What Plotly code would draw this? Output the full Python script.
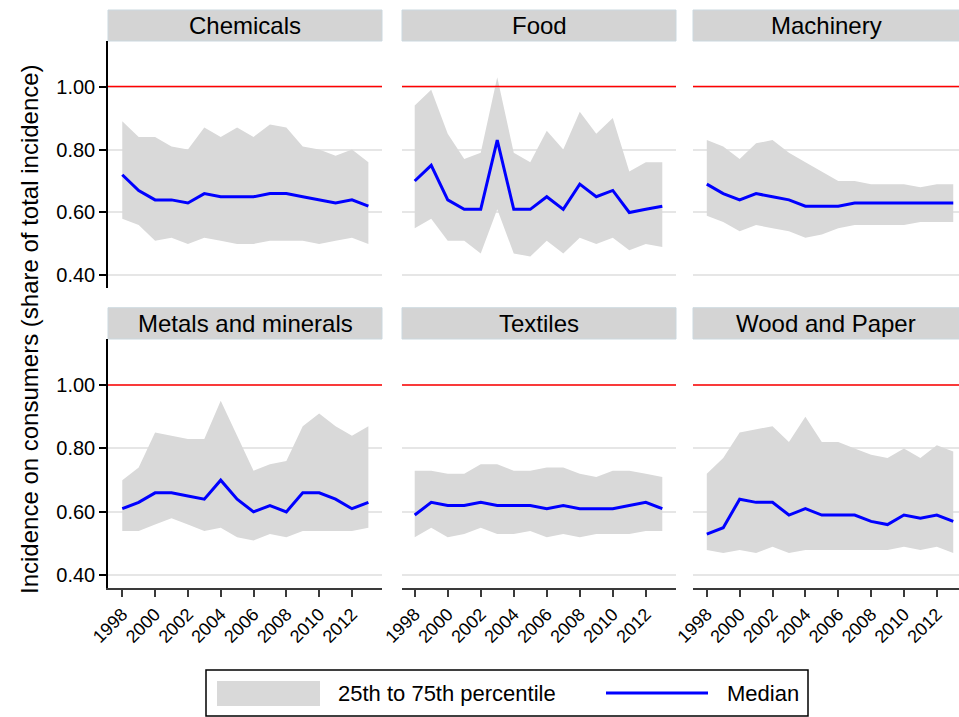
import plotly.graph_objects as go

# ---------------- data ----------------
YEARS = [1998, 1999, 2000, 2001, 2002, 2003, 2004, 2005,
         2006, 2007, 2008, 2009, 2010, 2011, 2012, 2013]
TICK_YEARS = [1998, 2000, 2002, 2004, 2006, 2008, 2010, 2012]
Y_TICKS = [0.40, 0.60, 0.80, 1.00]
REFERENCE_LEVEL = 1.00

PANELS = ["Chemicals", "Food", "Machinery",
          "Metals and minerals", "Textiles", "Wood and Paper"]
LEGEND_LABELS = ["25th to 75th percentile", "Median"]

CHEM_MEDIAN = [0.72, 0.67, 0.64, 0.64, 0.63, 0.66, 0.65, 0.65, 0.65, 0.66, 0.66, 0.65, 0.64, 0.63, 0.64, 0.62]
CHEM_P75 = [0.89, 0.84, 0.84, 0.81, 0.80, 0.87, 0.84, 0.87, 0.84, 0.88, 0.87, 0.81, 0.80, 0.78, 0.80, 0.76]
CHEM_P25 = [0.58, 0.56, 0.51, 0.52, 0.50, 0.52, 0.51, 0.50, 0.50, 0.51, 0.51, 0.51, 0.50, 0.51, 0.52, 0.50]

FOOD_MEDIAN = [0.70, 0.75, 0.64, 0.61, 0.61, 0.83, 0.61, 0.61, 0.65, 0.61, 0.69, 0.65, 0.67, 0.60, 0.61, 0.62]
FOOD_P75 = [0.94, 0.99, 0.85, 0.77, 0.79, 1.03, 0.79, 0.76, 0.86, 0.80, 0.92, 0.85, 0.90, 0.73, 0.76, 0.76]
FOOD_P25 = [0.55, 0.58, 0.51, 0.51, 0.47, 0.61, 0.47, 0.46, 0.51, 0.47, 0.52, 0.50, 0.52, 0.48, 0.50, 0.49]

MACH_MEDIAN = [0.69, 0.66, 0.64, 0.66, 0.65, 0.64, 0.62, 0.62, 0.62, 0.63, 0.63, 0.63, 0.63, 0.63, 0.63, 0.63]
MACH_P75 = [0.83, 0.81, 0.77, 0.82, 0.83, 0.79, 0.76, 0.73, 0.70, 0.70, 0.69, 0.69, 0.69, 0.68, 0.69, 0.69]
MACH_P25 = [0.59, 0.57, 0.54, 0.56, 0.55, 0.54, 0.52, 0.53, 0.55, 0.56, 0.56, 0.56, 0.56, 0.57, 0.57, 0.57]

METAL_MEDIAN = [0.61, 0.63, 0.66, 0.66, 0.65, 0.64, 0.70, 0.64, 0.60, 0.62, 0.60, 0.66, 0.66, 0.64, 0.61, 0.63]
METAL_P75 = [0.70, 0.74, 0.85, 0.84, 0.83, 0.83, 0.95, 0.84, 0.73, 0.75, 0.76, 0.87, 0.91, 0.87, 0.84, 0.87]
METAL_P25 = [0.54, 0.54, 0.56, 0.58, 0.56, 0.54, 0.55, 0.52, 0.51, 0.53, 0.52, 0.54, 0.54, 0.54, 0.54, 0.55]

TEXT_MEDIAN = [0.59, 0.63, 0.62, 0.62, 0.63, 0.62, 0.62, 0.62, 0.61, 0.62, 0.61, 0.61, 0.61, 0.62, 0.63, 0.61]
TEXT_P75 = [0.73, 0.73, 0.72, 0.72, 0.75, 0.75, 0.73, 0.73, 0.74, 0.74, 0.72, 0.71, 0.73, 0.73, 0.72, 0.71]
TEXT_P25 = [0.52, 0.55, 0.52, 0.53, 0.55, 0.53, 0.53, 0.54, 0.52, 0.53, 0.52, 0.53, 0.53, 0.53, 0.54, 0.54]

WOOD_MEDIAN = [0.53, 0.55, 0.64, 0.63, 0.63, 0.59, 0.61, 0.59, 0.59, 0.59, 0.57, 0.56, 0.59, 0.58, 0.59, 0.57]
WOOD_P75 = [0.72, 0.77, 0.85, 0.86, 0.87, 0.82, 0.90, 0.82, 0.82, 0.80, 0.78, 0.77, 0.80, 0.77, 0.81, 0.79]
WOOD_P25 = [0.48, 0.47, 0.48, 0.47, 0.49, 0.47, 0.48, 0.48, 0.48, 0.48, 0.48, 0.48, 0.49, 0.48, 0.49, 0.47]

SERIES = [
    (CHEM_MEDIAN, CHEM_P25, CHEM_P75),
    (FOOD_MEDIAN, FOOD_P25, FOOD_P75),
    (MACH_MEDIAN, MACH_P25, MACH_P75),
    (METAL_MEDIAN, METAL_P25, METAL_P75),
    (TEXT_MEDIAN, TEXT_P25, TEXT_P75),
    (WOOD_MEDIAN, WOOD_P25, WOOD_P75),
]

# ---------------- style / layout ----------------
W, H = 959, 717
FONT = "Liberation Sans, Arial, Helvetica, sans-serif"
FILL = "#d9d9d9"
BLUE = "#0000ff"
GRID = "#e6e6e6"

COL_PX = [(108, 382), (402, 676), (693, 959)]
ROW_PX = [(41, 288), (339, 588)]
X_RANGES = [[1997.13, 2013.83], [1997.23, 2013.83], [1997.16, 2013.35]]
Y_RANGE = [0.36, 1.145]


def px(x):
    return x / W


def py(y):
    return 1 - y / H


fig = go.Figure()
layout = dict(
    width=W, height=H,
    margin=dict(l=0, r=0, t=0, b=0, autoexpand=False),
    paper_bgcolor="white", plot_bgcolor="white",
    font=dict(family=FONT, color="black"),
    showlegend=False,
)
shapes = []
annotations = []

for i, (name, (med, p25, p75)) in enumerate(zip(PANELS, SERIES)):
    r, c = divmod(i, 3)
    n = i + 1
    xa = "x" if n == 1 else f"x{n}"
    ya = "y" if n == 1 else f"y{n}"
    xkey = "xaxis" if n == 1 else f"xaxis{n}"
    ykey = "yaxis" if n == 1 else f"yaxis{n}"

    band_x = YEARS + YEARS[::-1]
    band_y = p75 + p25[::-1]
    fig.add_trace(go.Scatter(
        x=band_x, y=band_y, xaxis=xa, yaxis=ya,
        fill="toself", fillcolor=FILL, mode="lines",
        line=dict(width=0, color=FILL),
        name=LEGEND_LABELS[0], hoverinfo="skip"))
    fig.add_trace(go.Scatter(
        x=YEARS, y=med, xaxis=xa, yaxis=ya, mode="lines",
        line=dict(color=BLUE, width=3), name=LEGEND_LABELS[1]))

    bottom = (r == 1)
    layout[xkey] = dict(
        domain=[px(COL_PX[c][0]), px(COL_PX[c][1])], anchor=ya, range=X_RANGES[c],
        automargin=False,
        showgrid=False, zeroline=False,
        showline=bottom, linecolor="#3a3a3a", linewidth=1.5,
        ticks="outside" if bottom else "", ticklen=7, tickwidth=1.5,
        tickcolor="#3a3a3a",
        tickvals=TICK_YEARS, showticklabels=bottom, tickangle=-45,
        tickfont=dict(size=18, family=FONT, color="black"),
    )
    first = (c == 0)
    layout[ykey] = dict(
        domain=[py(ROW_PX[r][1]), py(ROW_PX[r][0])], anchor=xa, range=Y_RANGE,
        automargin=False,
        showgrid=True, gridcolor=GRID, gridwidth=1.5, zeroline=False,
        showline=first, linecolor="black", linewidth=1.5,
        ticks="outside" if first else "", ticklen=7, tickwidth=1.5,
        tickcolor="black",
        tickvals=Y_TICKS, tickformat=".2f", showticklabels=first,
        tickfont=dict(size=20, family=FONT, color="black"),
    )

    # reference line
    shapes.append(dict(type="line", xref=f"{xa} domain", yref=ya,
                       x0=0, x1=1, y0=REFERENCE_LEVEL, y1=REFERENCE_LEVEL,
                       line=dict(color="red", width=1.5), layer="above"))
    # header band
    shapes.append(dict(type="rect", xref=f"{xa} domain", yref=f"{ya} domain",
                       x0=0, x1=1, y0=1.0, y1=1.0 + 31 / 247,
                       fillcolor="#d4d4d4", line=dict(color="#cbd8df", width=1),
                       layer="above"))
    annotations.append(dict(text=name, xref=f"{xa} domain", yref=f"{ya} domain",
                            x=0.5, y=1.0 + 15.5 / 247, xanchor="center", yanchor="middle",
                            showarrow=False, font=dict(size=24, family=FONT, color="black")))

annotations.append(dict(
    text="Incidence on consumers (share of total incidence)",
    xref="paper", yref="paper", x=px(30), y=py(329),
    xanchor="center", yanchor="middle", textangle=-90, showarrow=False,
    font=dict(size=24, family=FONT, color="black")))

# legend (drawn as a keyed box under the panels)
shapes.append(dict(type="rect", xref="paper", yref="paper",
                   x0=px(206), x1=px(808), y0=py(716), y1=py(670),
                   fillcolor="white", line=dict(color="black", width=1.5)))
shapes.append(dict(type="rect", xref="paper", yref="paper",
                   x0=px(217), x1=px(320), y0=py(706), y1=py(681),
                   fillcolor=FILL, line=dict(width=0)))
shapes.append(dict(type="line", xref="paper", yref="paper",
                   x0=px(606), x1=px(708), y0=py(693), y1=py(693),
                   line=dict(color=BLUE, width=3)))
annotations.append(dict(text=LEGEND_LABELS[0], xref="paper", yref="paper",
                        x=px(336), y=py(693), xanchor="left", yanchor="middle",
                        showarrow=False, font=dict(size=22, family=FONT, color="black")))
annotations.append(dict(text=LEGEND_LABELS[1], xref="paper", yref="paper",
                        x=px(725), y=py(693), xanchor="left", yanchor="middle",
                        showarrow=False, font=dict(size=22, family=FONT, color="black")))

layout["shapes"] = shapes
layout["annotations"] = annotations
fig.update_layout(**layout)
fig.write_html(
    "out.html",
    config={"displayModeBar": False},
    post_script="document.body.style.margin='0';document.body.style.overflow='hidden';",
)
